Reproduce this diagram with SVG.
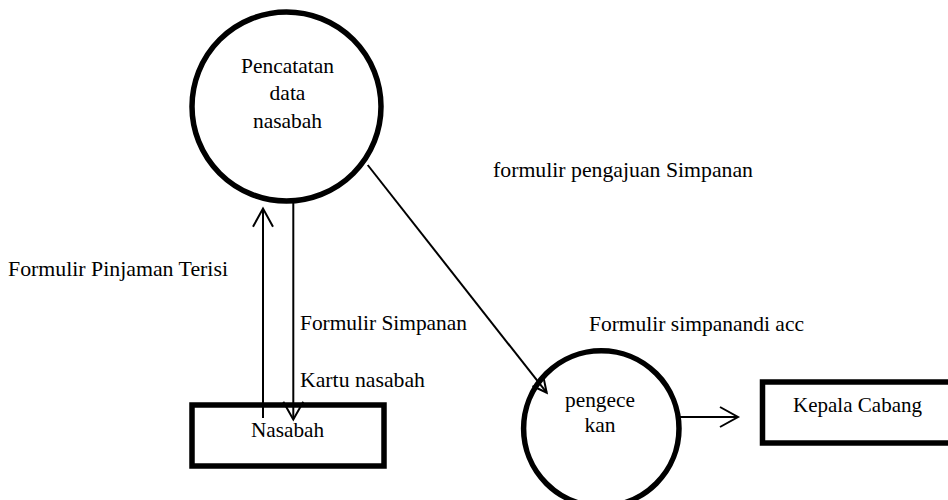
<svg xmlns="http://www.w3.org/2000/svg" width="948" height="500" viewBox="0 0 948 500">
<style>
.node{fill:#fff;stroke:#000;stroke-width:5.5}
text{font-family:'Liberation Serif','DejaVu Serif Condensed','DejaVu Serif',serif;font-size:21.5px;fill:#000}
.c{text-anchor:middle}
.ln{fill:none;stroke:#000;stroke-width:2}
</style>
<rect width="948" height="500" fill="#fff"/>
<g id="pencatatan">
<circle class="node" cx="286.5" cy="106.5" r="94.5"/>
<text class="c" x="287.5" y="73" textLength="93" lengthAdjust="spacingAndGlyphs">Pencatatan</text>
<text class="c" x="287.5" y="100">data</text>
<text class="c" x="287.5" y="128">nasabah</text>
</g>
<g id="pengecekan">
<circle class="node" cx="601.3" cy="428.5" r="77.7"/>
<text class="c" x="600" y="407" textLength="70" lengthAdjust="spacingAndGlyphs">pengece</text>
<text class="c" x="600" y="432">kan</text>
</g>
<g id="nasabah">
<rect class="node" x="192" y="405" width="192" height="61"/>
<text class="c" x="287.5" y="437" textLength="73" lengthAdjust="spacingAndGlyphs">Nasabah</text>
</g>
<g id="kepala-cabang">
<rect class="node" x="762.5" y="382" width="200" height="61"/>
<text x="793" y="412" textLength="129" lengthAdjust="spacingAndGlyphs">Kepala Cabang</text>
</g>
<g id="connectors">
<line class="ln" x1="263" y1="418" x2="263" y2="209"/>
<polyline class="ln" points="253,226.7 263,208.5 273,226.7"/>
<line class="ln" x1="293.3" y1="203" x2="293.3" y2="419"/>
<polyline class="ln" points="283.3,401.7 293.3,419.5 303.3,401.7"/>
<line class="ln" x1="367.7" y1="165" x2="546.7" y2="392.7"/>
<polyline class="ln" points="543.5,377.4 546.7,392.7 532.5,386"/>
<line class="ln" x1="680" y1="417" x2="737" y2="417"/>
<polyline class="ln" points="720,407 738,417 720,427"/>
</g>
<g id="labels">
<text x="493" y="177" textLength="260" lengthAdjust="spacingAndGlyphs">formulir pengajuan Simpanan</text>
<text x="8" y="276" textLength="220" lengthAdjust="spacingAndGlyphs">Formulir Pinjaman Terisi</text>
<text x="300" y="330" textLength="167" lengthAdjust="spacingAndGlyphs">Formulir Simpanan</text>
<text x="300" y="387" textLength="125" lengthAdjust="spacingAndGlyphs">Kartu nasabah</text>
<text x="589" y="331" textLength="215" lengthAdjust="spacingAndGlyphs">Formulir simpanandi acc</text>
</g>
</svg>
